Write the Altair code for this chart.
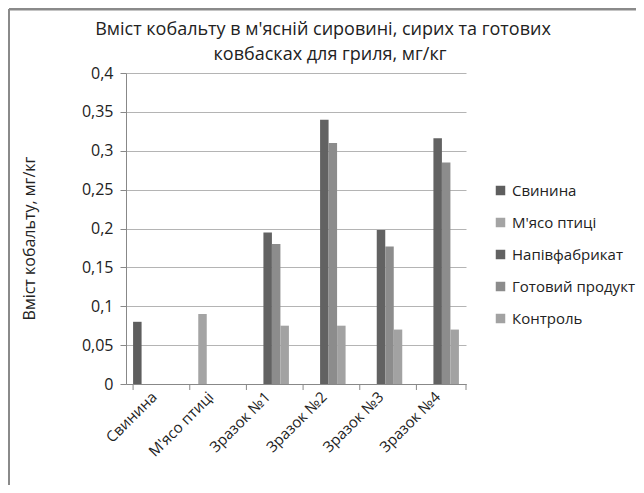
import altair as alt
import pandas as pd

categories = ["Свинина", "М'ясо птиці", "Зразок №1", "Зразок №2", "Зразок №3", "Зразок №4"]
series = ["Свинина", "М'ясо птиці", "Напівфабрикат", "Готовий продукт", "Контроль"]
colors = ["#5e5e5e", "#a4a4a4", "#626262", "#8c8c8c", "#a2a2a2"]
title_lines = ["Вміст кобальту в м'ясній сировині, сирих та готових", "ковбасках для гриля, мг/кг"]

# values per series (None = no bar)
svynyna = [0.08, None, None, None, None, None]
myaso = [None, 0.09, None, None, None, None]
napiv = [None, None, 0.195, 0.34, 0.198, 0.316]
gotovyi = [None, None, 0.18, 0.31, 0.177, 0.285]
kontrol = [None, None, 0.075, 0.075, 0.07, 0.07]

rows = []
for s, vals in zip(series, [svynyna, myaso, napiv, gotovyi, kontrol]):
    for c, v in zip(categories, vals):
        if v is not None:
            rows.append({"cat": c, "series": s, "value": v})
df = pd.DataFrame(rows)
cat_df = pd.DataFrame({"cat": categories})

FONT = "Open Sans"
W, H = 340, 311

xscale = alt.Scale(domain=categories, paddingInner=0.25, paddingOuter=0.125)

bars = alt.Chart(df).mark_bar().encode(
    x=alt.X("cat:N", scale=xscale, sort=categories,
            axis=alt.Axis(title=None, labelAngle=-45, labelAlign="right", labelBaseline="middle",
                          ticks=False, labelPadding=10, labelFontSize=15, labelColor="#222",
                          domainColor="#888", labelFont=FONT)),
    xOffset=alt.XOffset("series:N", scale=alt.Scale(domain=series, paddingInner=0, paddingOuter=0)),
    y=alt.Y("value:Q", scale=alt.Scale(domain=[0, 0.4]),
            axis=alt.Axis(title="Вміст кобальту, мг/кг", values=[0, 0.05, 0.1, 0.15, 0.2, 0.25, 0.3, 0.35, 0.4],
                          labelExpr="replace(format(datum.value, ''), '.', ',')",
                          labelFontSize=16, labelColor="#222", labelFont=FONT, labelPadding=7,
                          tickSize=6, tickColor="#888", domainColor="#888",
                          gridColor="#b4b4b4", titleFont=FONT, titleFontSize=16,
                          titleFontWeight="normal", titleColor="#222",
                          titleX=-97, titleY=165, titleAngle=-90, titleAlign="center",
                          titleBaseline="middle")),
    color=alt.Color("series:N", scale=alt.Scale(domain=series, range=colors),
                    legend=alt.Legend(title=None, orient="none", legendX=367, legendY=110,
                                      symbolType="square", symbolSize=90, symbolStrokeWidth=0,
                                      labelFontSize=15, labelFont=FONT, labelColor="#222",
                                      rowPadding=16, labelOffset=4)),
)

ticks = alt.Chart(cat_df).mark_rule(color="#888").encode(
    x=alt.X("cat:N", scale=xscale, sort=categories, bandPosition=0),
    y=alt.value(H), y2=alt.value(H + 6),
)
one = pd.DataFrame({"a": [1]})
last_tick = alt.Chart(one).mark_rule(color="#888").encode(
    x=alt.value(W), y=alt.value(H), y2=alt.value(H + 6)
)

title1 = alt.Chart(one).mark_text(font=FONT, fontSize=18, color="#222", align="center", baseline="middle",
                                  text=title_lines[0]).encode(x=alt.value(197), y=alt.value(-43))
title2 = alt.Chart(one).mark_text(font=FONT, fontSize=18, color="#222", align="center", baseline="middle",
                                  text=title_lines[1]).encode(x=alt.value(204), y=alt.value(-18))

frame_top = alt.Chart(one).mark_rule(color="#8a8a8a", strokeWidth=3).encode(
    x=alt.value(-117), x2=alt.value(510), y=alt.value(-64)
)
frame_left = alt.Chart(one).mark_rule(color="#8a8a8a", strokeWidth=2).encode(
    x=alt.value(-117), y=alt.value(-64), y2=alt.value(412)
)

chart = alt.layer(bars, ticks, last_tick, title1, title2, frame_top, frame_left).properties(
    width=W, height=H,
    autosize=alt.AutoSizeParams(type="none"),
    padding={"left": 118, "top": 65, "right": 170, "bottom": 101},
).configure_view(stroke=None).configure_axis(grid=True).configure_axisX(grid=False)

chart.save("out.html", embed_options={"renderer": "svg", "actions": False})
